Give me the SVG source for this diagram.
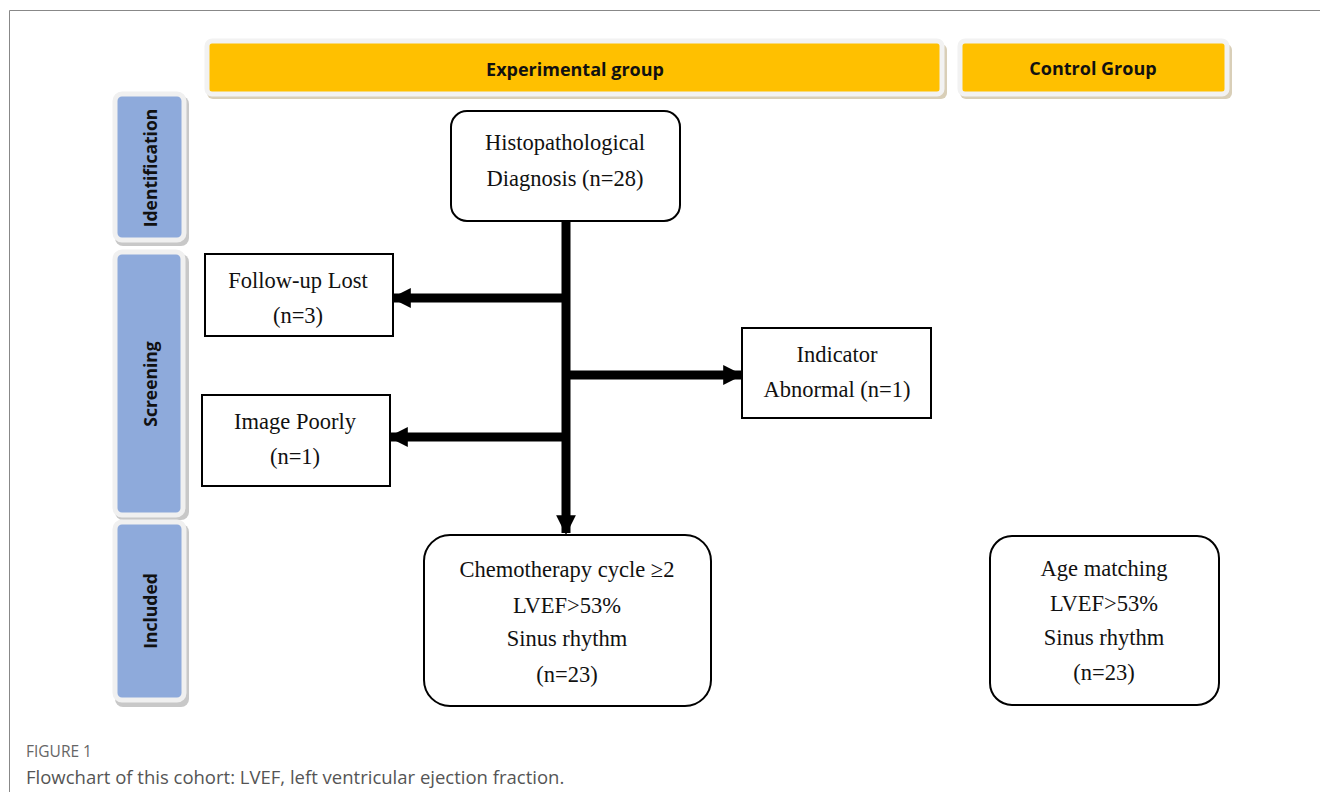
<svg xmlns="http://www.w3.org/2000/svg" width="1320" height="792" viewBox="0 0 1320 792">
<defs>
<style>
.hdr{fill:#ffc000;stroke:#f2f2f2;stroke-width:5}
.hdrsh{fill:#d9cfb8}
.tab{fill:#8eaadb;stroke:#f0f0f0;stroke-width:5}
.tabsh{fill:#c8c8c8}
.htxt{font-family:"Open Sans","Liberation Sans",sans-serif;font-size:18px;font-weight:bold;fill:#111;text-anchor:middle}
.ttxt{font-family:"Open Sans","Liberation Sans",sans-serif;font-size:17.5px;font-weight:bold;fill:#111;text-anchor:middle}
.box{fill:#fff;stroke:#000;stroke-width:2}
.t{font-family:"Liberation Serif","Times New Roman",serif;font-size:22.5px;fill:#111;text-anchor:middle}
.conn{stroke:#000;stroke-width:9;fill:none}
.cap1{font-family:"Open Sans","Liberation Sans",sans-serif;font-size:15.5px;fill:#666}
.cap2{font-family:"Open Sans","Liberation Sans",sans-serif;font-size:18.5px;fill:#555}
</style>
<marker id="ah" viewBox="0 0 10 10" refX="9" refY="5" markerWidth="2.2" markerHeight="2.2" orient="auto" markerUnits="strokeWidth">
<path d="M0,0 L10,5 L0,10 z" fill="#000"/>
</marker>
</defs>
<rect width="1320" height="792" fill="#fff"/>
<path d="M9.5,792 V10.5 H1320" fill="none" stroke="#888" stroke-width="1"/>

<g id="experimental-group">
<rect class="hdrsh" x="207" y="44" width="740" height="55" rx="6"/>
<rect class="hdr" x="207" y="41" width="735" height="53" rx="5"/>
<text class="htxt" x="575" y="76">Experimental group</text>
</g>
<g id="control-group">
<rect class="hdrsh" x="960" y="44" width="272" height="55" rx="6"/>
<rect class="hdr" x="960" y="41" width="267" height="53" rx="5"/>
<text class="htxt" x="1093" y="75">Control Group</text>
</g>

<g id="identification">
<rect class="tabsh" x="115" y="96" width="74" height="150" rx="8"/>
<rect class="tab" x="115" y="94" width="69" height="146" rx="7"/>
<text class="ttxt" transform="translate(157,168) rotate(-90)">Identification</text>
</g>
<g id="screening">
<rect class="tabsh" x="115" y="254" width="74" height="266" rx="8"/>
<rect class="tab" x="115" y="252" width="68" height="263" rx="7"/>
<text class="ttxt" transform="translate(157,384) rotate(-90)">Screening</text>
</g>
<g id="included">
<rect class="tabsh" x="115" y="524" width="74" height="183" rx="8"/>
<rect class="tab" x="115" y="522" width="69" height="178" rx="7"/>
<text class="ttxt" transform="translate(157,611) rotate(-90)">Included</text>
</g>

<g id="connectors">
<line class="conn" x1="566" y1="221" x2="566" y2="533" marker-end="url(#ah)"/>
<line class="conn" x1="566" y1="298" x2="393" y2="298" marker-end="url(#ah)"/>
<line class="conn" x1="566" y1="437" x2="390" y2="437" marker-end="url(#ah)"/>
<line class="conn" x1="566" y1="375" x2="741" y2="375" marker-end="url(#ah)"/>
</g>

<g id="histopathological">
<rect class="box" x="451" y="111" width="229" height="110" rx="16"/>
<text class="t" x="565" y="150">Histopathological</text>
<text class="t" x="565" y="186">Diagnosis (n=28)</text>
</g>
<g id="follow-up-lost">
<rect class="box" x="205" y="254" width="188" height="82"/>
<text class="t" x="298" y="288">Follow-up Lost</text>
<text class="t" x="298" y="323">(n=3)</text>
</g>
<g id="image-poorly">
<rect class="box" x="202" y="395" width="188" height="91"/>
<text class="t" x="295" y="429">Image Poorly</text>
<text class="t" x="295" y="464">(n=1)</text>
</g>
<g id="indicator-abnormal">
<rect class="box" x="742" y="328" width="189" height="90"/>
<text class="t" x="837" y="362">Indicator</text>
<text class="t" x="837" y="397">Abnormal (n=1)</text>
</g>
<g id="chemotherapy">
<rect class="box" x="424" y="535" width="287" height="171" rx="26"/>
<text class="t" x="567" y="577">Chemotherapy cycle ≥2</text>
<text class="t" x="567" y="613">LVEF&gt;53%</text>
<text class="t" x="567" y="646">Sinus rhythm</text>
<text class="t" x="567" y="682">(n=23)</text>
</g>
<g id="age-matching">
<rect class="box" x="990" y="536" width="229" height="169" rx="22"/>
<text class="t" x="1104" y="576">Age matching</text>
<text class="t" x="1104" y="611">LVEF&gt;53%</text>
<text class="t" x="1104" y="645">Sinus rhythm</text>
<text class="t" x="1104" y="680">(n=23)</text>
</g>

<text class="cap1" x="26" y="757">FIGURE 1</text>
<text class="cap2" x="26" y="784">Flowchart of this cohort: LVEF, left ventricular ejection fraction.</text>
</svg>
